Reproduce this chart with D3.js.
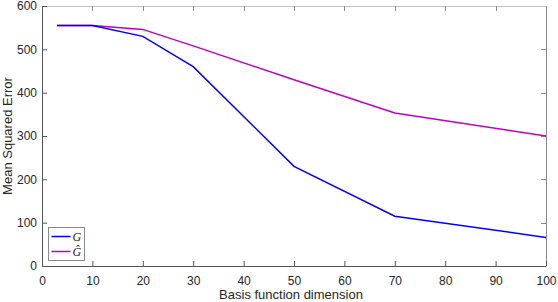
<!DOCTYPE html>
<html>
<head>
<meta charset="utf-8">
<script src="https://cdn.jsdelivr.net/npm/d3@7"></script>
<style>
  body { margin: 0; background: #fff; }
  svg text { font-family: "Liberation Sans", Arial, sans-serif; fill: #262626; }
</style>
</head>
<body>
<div id="chart"></div>
<script>
// basis dimension vs MSE
const dims = [3, 10, 20, 30, 50, 70, 100];
const mseG = [555, 555, 530, 460, 230, 115, 66];
const mseGhat = [555, 555, 546, 508, 430, 353, 300];
const xTicks = [0, 10, 20, 30, 40, 50, 60, 70, 80, 90, 100];
const yTicks = [0, 100, 200, 300, 400, 500, 600];

const width = 558, height = 302;
const margin = { left: 42, right: 12, top: 6, bottom: 36 };

const svg = d3.select("#chart").append("svg")
    .attr("width", width)
    .attr("height", height);

const x = d3.scaleLinear().domain([0, 100]).range([margin.left, width - margin.right]);
const y = d3.scaleLinear().domain([0, 600]).range([height - margin.bottom, margin.top]);

// box lines (top/right)
svg.append("line")
    .attr("x1", x(0)).attr("x2", x(100))
    .attr("y1", y(600) + 0.5).attr("y2", y(600) + 0.5)
    .attr("stroke", "#c4c4c4");
svg.append("line")
    .attr("x1", x(100) + 0.5).attr("x2", x(100) + 0.5)
    .attr("y1", y(600)).attr("y2", y(0))
    .attr("stroke", "#8a8a8a");

// inner ticks on top and right
svg.selectAll(".ttick").data(xTicks.slice(1, -1)).enter().append("line")
    .attr("x1", d => Math.round(x(d)) + 0.5).attr("x2", d => Math.round(x(d)) + 0.5)
    .attr("y1", y(600)).attr("y2", y(600) + 5)
    .attr("stroke", "#8a8a8a");
svg.selectAll(".rtick").data(yTicks.slice(1, -1)).enter().append("line")
    .attr("x1", x(100) - 5).attr("x2", x(100))
    .attr("y1", d => Math.round(y(d)) + 0.5).attr("y2", d => Math.round(y(d)) + 0.5)
    .attr("stroke", "#8a8a8a");

const xAxis = svg.append("g")
    .attr("transform", `translate(0,${y(0)})`)
    .call(d3.axisBottom(x).tickValues(xTicks).tickSizeInner(-5).tickSizeOuter(0).tickPadding(10));
const yAxis = svg.append("g")
    .attr("transform", `translate(${x(0)},0)`)
    .call(d3.axisLeft(y).tickValues(yTicks).tickSizeInner(-5).tickSizeOuter(0).tickPadding(5));

[xAxis, yAxis].forEach(a => {
    a.select(".domain").attr("stroke", "#555");
    a.selectAll(".tick line").attr("stroke", "#555");
    a.selectAll(".tick text").attr("font-size", 12).style("fill", "#262626")
        .attr("font-family", "Liberation Sans, Arial, sans-serif");
});

svg.append("text")
    .attr("x", 291).attr("y", 299)
    .attr("text-anchor", "middle").attr("font-size", 13)
    .text("Basis function dimension");
svg.append("text")
    .attr("transform", `translate(12,${(y(0) + y(600)) / 2}) rotate(-90)`)
    .attr("text-anchor", "middle").attr("font-size", 13)
    .text("Mean Squared Error");

const line = d3.line().x(d => x(d[0])).y(d => y(d[1]));
const series = [
    { name: "G", vals: mseG, color: "#0000ff" },
    { name: "Ĝ", vals: mseGhat, color: "#bf00bf" }
];

series.slice().reverse().forEach(s => {
    svg.append("path")
        .datum(dims.map((d, i) => [d, s.vals[i]]))
        .attr("d", line)
        .attr("fill", "none")
        .attr("stroke", s.color)
        .attr("stroke-width", 1.5);
});

// legend
const lg = svg.append("g").attr("transform", "translate(48.5,227.5)");
lg.append("rect").attr("width", 36).attr("height", 33)
    .attr("fill", "#fff").attr("stroke", "#8a8a8a");
series.forEach((s, i) => {
    const yy = 9 + i * 15;
    lg.append("line").attr("x1", 3).attr("x2", 22)
        .attr("y1", yy).attr("y2", yy)
        .attr("stroke", s.color).attr("stroke-width", 1.5);
    lg.append("text").attr("x", 24).attr("y", yy + 4)
        .attr("font-style", "italic").attr("font-size", 12)
        .style("font-family", "Liberation Serif, serif")
        .text(s.name);
});
</script>
</body>
</html>
